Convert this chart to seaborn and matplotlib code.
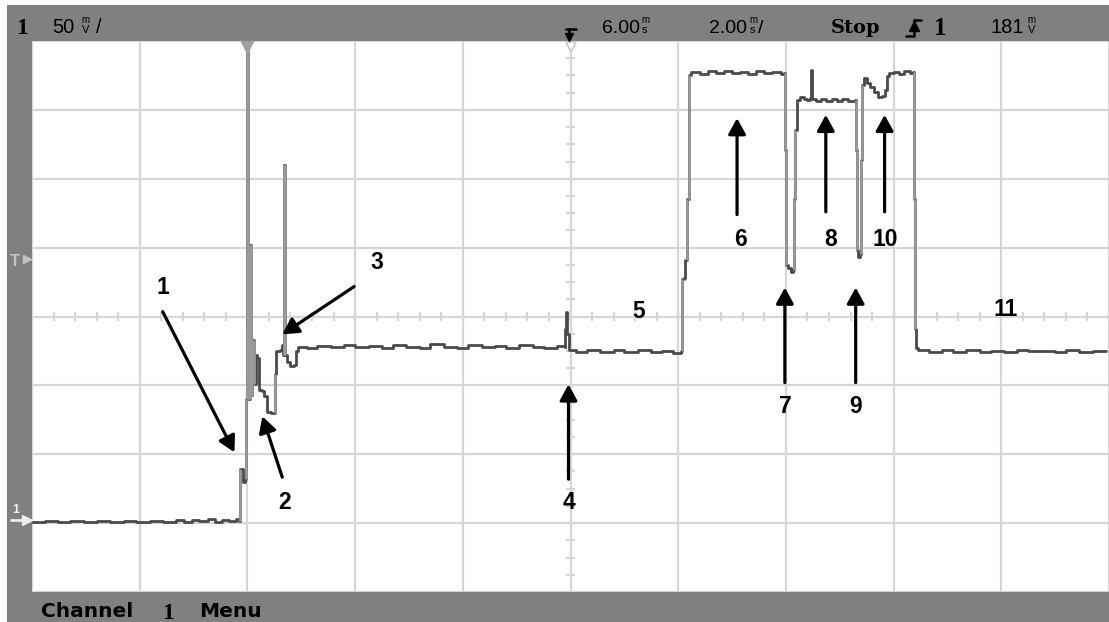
import numpy as np
import matplotlib
matplotlib.use("Agg")
import matplotlib.pyplot as plt
import seaborn as sns
from matplotlib.patches import Rectangle
from matplotlib.lines import Line2D

# ---------------- data (time in ms, voltage in mV) ----------------
time_ms = [
    -4.00, -3.76, -3.52, -3.30, -3.04, -2.80, -2.56, -2.30, -2.06, -1.81, -1.57,
    -1.33, -1.17, -1.02, -0.89, -0.74, -0.61, -0.48, -0.35, -0.22, -0.15,
    -0.13, -0.09, -0.074, -0.037, -0.019, 0.0, 0.019, 0.037, 0.056, 0.074, 0.093,
    0.130, 0.167, 0.185, 0.222, 0.278, 0.315, 0.370, 0.444, 0.481, 0.519, 0.537,
    0.611, 0.648, 0.667, 0.685, 0.704, 0.741, 0.796, 0.870, 0.907, 0.944,
    1.10, 1.30, 1.55, 1.80, 2.00, 2.25, 2.50, 2.70, 2.95, 3.20, 3.40, 3.65, 3.90,
    4.10, 4.35, 4.60, 4.80, 5.05, 5.30, 5.50, 5.75, 5.889,
    5.907, 5.917, 5.935, 5.944, 5.963,
    6.10, 6.30, 6.55, 6.80, 7.00, 7.25, 7.50, 7.70, 7.90, 8.056,
    8.074, 8.111, 8.130, 8.167, 8.204, 8.240,
    8.40, 8.55, 8.70, 8.85, 9.00, 9.15, 9.30, 9.45, 9.60, 9.75, 9.90, 9.963,
    9.981, 10.000, 10.037, 10.093, 10.130, 10.148, 10.167, 10.204, 10.260, 10.330,
    10.40, 10.444, 10.463, 10.481, 10.55, 10.65, 10.75, 10.85, 10.95, 11.05, 11.15, 11.278,
    11.296, 11.315, 11.333, 11.370, 11.389, 11.407, 11.444, 11.500, 11.556, 11.630,
    11.704, 11.778, 11.833, 11.870, 11.907,
    12.00, 12.10, 12.20, 12.30, 12.352,
    12.370, 12.389, 12.407, 12.444,
    12.65, 12.90, 13.10, 13.35, 13.60, 13.80, 14.05, 14.30, 14.50, 14.75, 15.00,
    15.20, 15.45, 15.70, 15.95,
]
volt_mv = [
    1.0, 1.8, 0.9, 1.6, 0.7, 1.5, 0.8, 1.9, 1.0, 1.7, 0.6,
    2.2, 1.0, 2.6, 1.2, 2.8, 1.1, 2.5, 1.3, 2.7, 1.4,
    39, 39, 30, 32, 90, 360, 137, 90, 202, 93, 133,
    101, 122, 120, 97, 96, 92, 81, 80, 80, 108, 125,
    126, 129, 122, 260, 122, 117, 114, 115, 125, 128,
    127.2, 128.9, 127.5, 129.6, 127.9, 128.4, 126.8, 129.3, 128.0, 127.1, 129.8,
    128.2, 127.4, 129.0, 127.7, 128.6, 126.9, 129.4, 128.1, 127.3, 128.8, 128.0,
    140.6, 153, 153, 137, 125.4,
    124.2, 125.8, 123.9, 125.5, 124.4, 126.0, 124.1, 125.2, 123.8, 125.0,
    177, 178, 191, 235, 325, 327.5,
    326.2, 327.9, 326.5, 328.1, 326.8, 327.6, 326.1, 328.0, 326.7, 327.4, 326.3, 327.0,
    271, 187.7, 185.5, 182.6, 184, 235, 285.5, 307, 309.4, 308,
    307.2, 308.5, 329, 308, 306.5, 308.2, 306.4, 308.0, 306.8, 307.9, 306.6, 307.5,
    271, 198.5, 193.5, 195.6, 263.8, 318, 323, 319.6, 316.6, 313,
    309.4, 310, 314.5, 324.6, 326.8,
    327.6, 326.4, 327.9, 326.8, 327.2,
    235, 140.6, 126.8, 125.4,
    124.3, 125.6, 124.0, 125.8, 124.5, 125.3, 123.9, 125.7, 124.6, 125.1, 124.2,
    125.9, 124.4, 125.3, 124.7,
]
marker_labels = ["1", "2", "3", "4", "5", "6", "7", "8", "9", "10", "11"]

# ---------------- figure ----------------
W, H = 1109, 622
sns.set_theme(style="white")
plt.rcParams["font.family"] = ["Liberation Sans", "DejaVu Sans"]

fig = plt.figure(figsize=(W / 100, H / 100), dpi=100)
fig.patch.set_facecolor("white")

def fx(x):
    return x / W

def fy(y):
    return 1 - y / H

GRAY = "#808080"
# frame bars
fig.add_artist(Rectangle((fx(7), fy(41)), fx(W - 7), 36 / H, transform=fig.transFigure,
                         facecolor=GRAY, edgecolor="none", zorder=0))
fig.add_artist(Rectangle((fx(7), 0), fx(25), fy(41), transform=fig.transFigure,
                         facecolor=GRAY, edgecolor="none", zorder=0))
fig.add_artist(Rectangle((fx(7), 0), fx(W - 7), 30 / H, transform=fig.transFigure,
                         facecolor=GRAY, edgecolor="none", zorder=0))

ax = fig.add_axes([fx(32), fy(592), fx(W - 32), (592 - 41) / H])
ax.set_facecolor("white")
ax.set_xlim(-4, -4 + (W - 32) / 54)
ax.set_ylim(-49.3, 350)
ax.set_xticks(np.arange(-4, 17, 2))
ax.set_yticks(np.arange(-50, 351, 50))
ax.tick_params(left=False, bottom=False, labelleft=False, labelbottom=False)
ax.grid(True, color="#d6d6d6", lw=1.6)
for s in ax.spines.values():
    s.set_visible(False)

# minor ticks on center lines
tk_t = np.arange(-4, 16.01, 0.4)
ax.vlines(tk_t, 150 - 3.0, 150 + 3.0, color="#d6d6d6", lw=1.6, zorder=1)
tk_v = np.arange(-50, 351, 12.5)
ax.hlines(tk_v, 6 - 0.075, 6 + 0.075, color="#d6d6d6", lw=1.6, zorder=1)

# trace
sns.lineplot(x=time_ms, y=volt_mv, sort=False, estimator=None, ax=ax,
             color="#4a4a4a", lw=2.0, drawstyle="steps-post", zorder=3)
tt = np.asarray(time_ms)
vv = np.asarray(volt_mv)
jump = np.abs(np.diff(vv)) > 25
ax.vlines(tt[1:][jump], vv[:-1][jump], vv[1:][jump], color="#9a9a9a", lw=1.9, zorder=4)

# annotations: (text pos, arrow tail, arrow tip)
ann = [
    ((-1.574, 171), (-1.574, 153.6), (-0.241, 51.4)),
    ((0.685, 15.2), (0.648, 33.3), (0.278, 77.5)),
    ((2.407, 189), (1.981, 171.7), (0.648, 137)),
    ((5.963, 15.2), (5.963, 31.9), (5.963, 100.7)),
    ((7.259, 153.6), None, None),
    ((9.148, 205.8), (9.093, 224), (9.093, 294)),
    ((9.981, 84.8), (9.981, 102), (9.981, 171)),
    ((10.833, 205.8), (10.741, 226), (10.741, 296.4)),
    ((11.296, 84.8), (11.296, 102), (11.296, 171)),
    ((11.852, 205.8), (11.833, 226), (11.833, 296.4)),
    ((14.074, 155), None, None),
]
for lab, (tp, tail, tip) in zip(marker_labels, ann):
    ax.text(tp[0], tp[1], lab, ha="center", va="center", fontsize=16.5,
            fontweight="bold", color="black", zorder=6)
    if tail is not None:
        ax.annotate("", xy=tip, xytext=tail,
                    arrowprops=dict(arrowstyle="-|>,head_length=0.4,head_width=0.22",
                                    color="black", lw=2.3, mutation_scale=24,
                                    shrinkA=0, shrinkB=0), zorder=6)

# top markers inside plot
ax.plot([0], [346], marker="v", ms=8, color="#a0a0a0", mec="#a0a0a0", clip_on=False, zorder=5)
ax.plot([6], [346], marker="v", ms=7, mfc="white", mec="#c8c8c8", mew=1.2, clip_on=False, zorder=5)

# ---------------- header / footer text ----------------
def ftext(x, y, s, **kw):
    fig.text(fx(x), fy(y), s, **kw)

ftext(16, 34, "1", fontsize=17, fontweight="bold", family="Liberation Serif", color="black")
ftext(52, 33, "50", fontsize=14.5, color="black")
ftext(81, 23, "m", fontsize=7, color="black")
ftext(82, 33, "V", fontsize=8, color="black")
ftext(96, 33, "/", fontsize=14.5, color="black")

ftext(602, 33, "6.00", fontsize=14, color="black")
ftext(641, 23, "m", fontsize=7, color="black")
ftext(642, 33, "s", fontsize=8, color="black")
ftext(709, 33, "2.00", fontsize=14, color="black")
ftext(749, 23, "m", fontsize=7, color="black")
ftext(750, 33, "s", fontsize=8, color="black")
ftext(758, 33, "/", fontsize=14, color="black")
ftext(831, 33, "Stop", fontsize=14, fontweight="bold", family="DejaVu Serif", color="black")
ftext(934, 35, "1", fontsize=18, fontweight="bold", family="Liberation Serif", color="black")
ftext(991, 33, "181", fontsize=14.5, color="black")
ftext(1027, 23, "m", fontsize=7, color="black")
ftext(1028, 33, "V", fontsize=8, color="black")

# delay icon
fig.add_artist(Line2D([fx(566), fx(576)], [fy(29), fy(29)], transform=fig.transFigure, color="black", lw=1.8))
fig.add_artist(Line2D([fx(569), fx(569)], [fy(29), fy(36)], transform=fig.transFigure, color="black", lw=1.8))
fig.add_artist(Line2D([fx(569)], [fy(37)], transform=fig.transFigure, marker="v", ms=6, color="black", lw=0))
# trigger edge icon
fig.add_artist(Line2D([fx(906), fx(914), fx(914), fx(921)], [fy(36), fy(36), fy(20), fy(20)],
                      transform=fig.transFigure, color="black", lw=1.8))
fig.add_artist(Line2D([fx(914)], [fy(26)], transform=fig.transFigure, marker="^", ms=7, color="black", lw=0))

# left side markers
ftext(10, 266, "T", fontsize=12, fontweight="bold", color="#c4c4c4")
fig.add_artist(Line2D([fx(27)], [fy(259)], transform=fig.transFigure, marker=">", ms=6,
                      color="#c4c4c4", lw=0))
ftext(12, 513, "1", fontsize=9, fontweight="bold", color="#eeeeee")
fig.add_artist(Line2D([fx(11), fx(24)], [fy(520), fy(520)], transform=fig.transFigure,
                      color="#eeeeee", lw=2))
fig.add_artist(Line2D([fx(27)], [fy(520)], transform=fig.transFigure, marker=">", ms=7,
                      color="#eeeeee", lw=0))

# footer
ftext(41, 617, "Channel", fontsize=14.5, fontweight="bold", family="DejaVu Sans", color="black")
ftext(162, 619, "1", fontsize=17, fontweight="bold", family="Liberation Serif", color="black")
ftext(199, 617, "Menu", fontsize=14.5, fontweight="bold", family="DejaVu Sans", color="black")

fig.savefig("out.png", dpi=100)
